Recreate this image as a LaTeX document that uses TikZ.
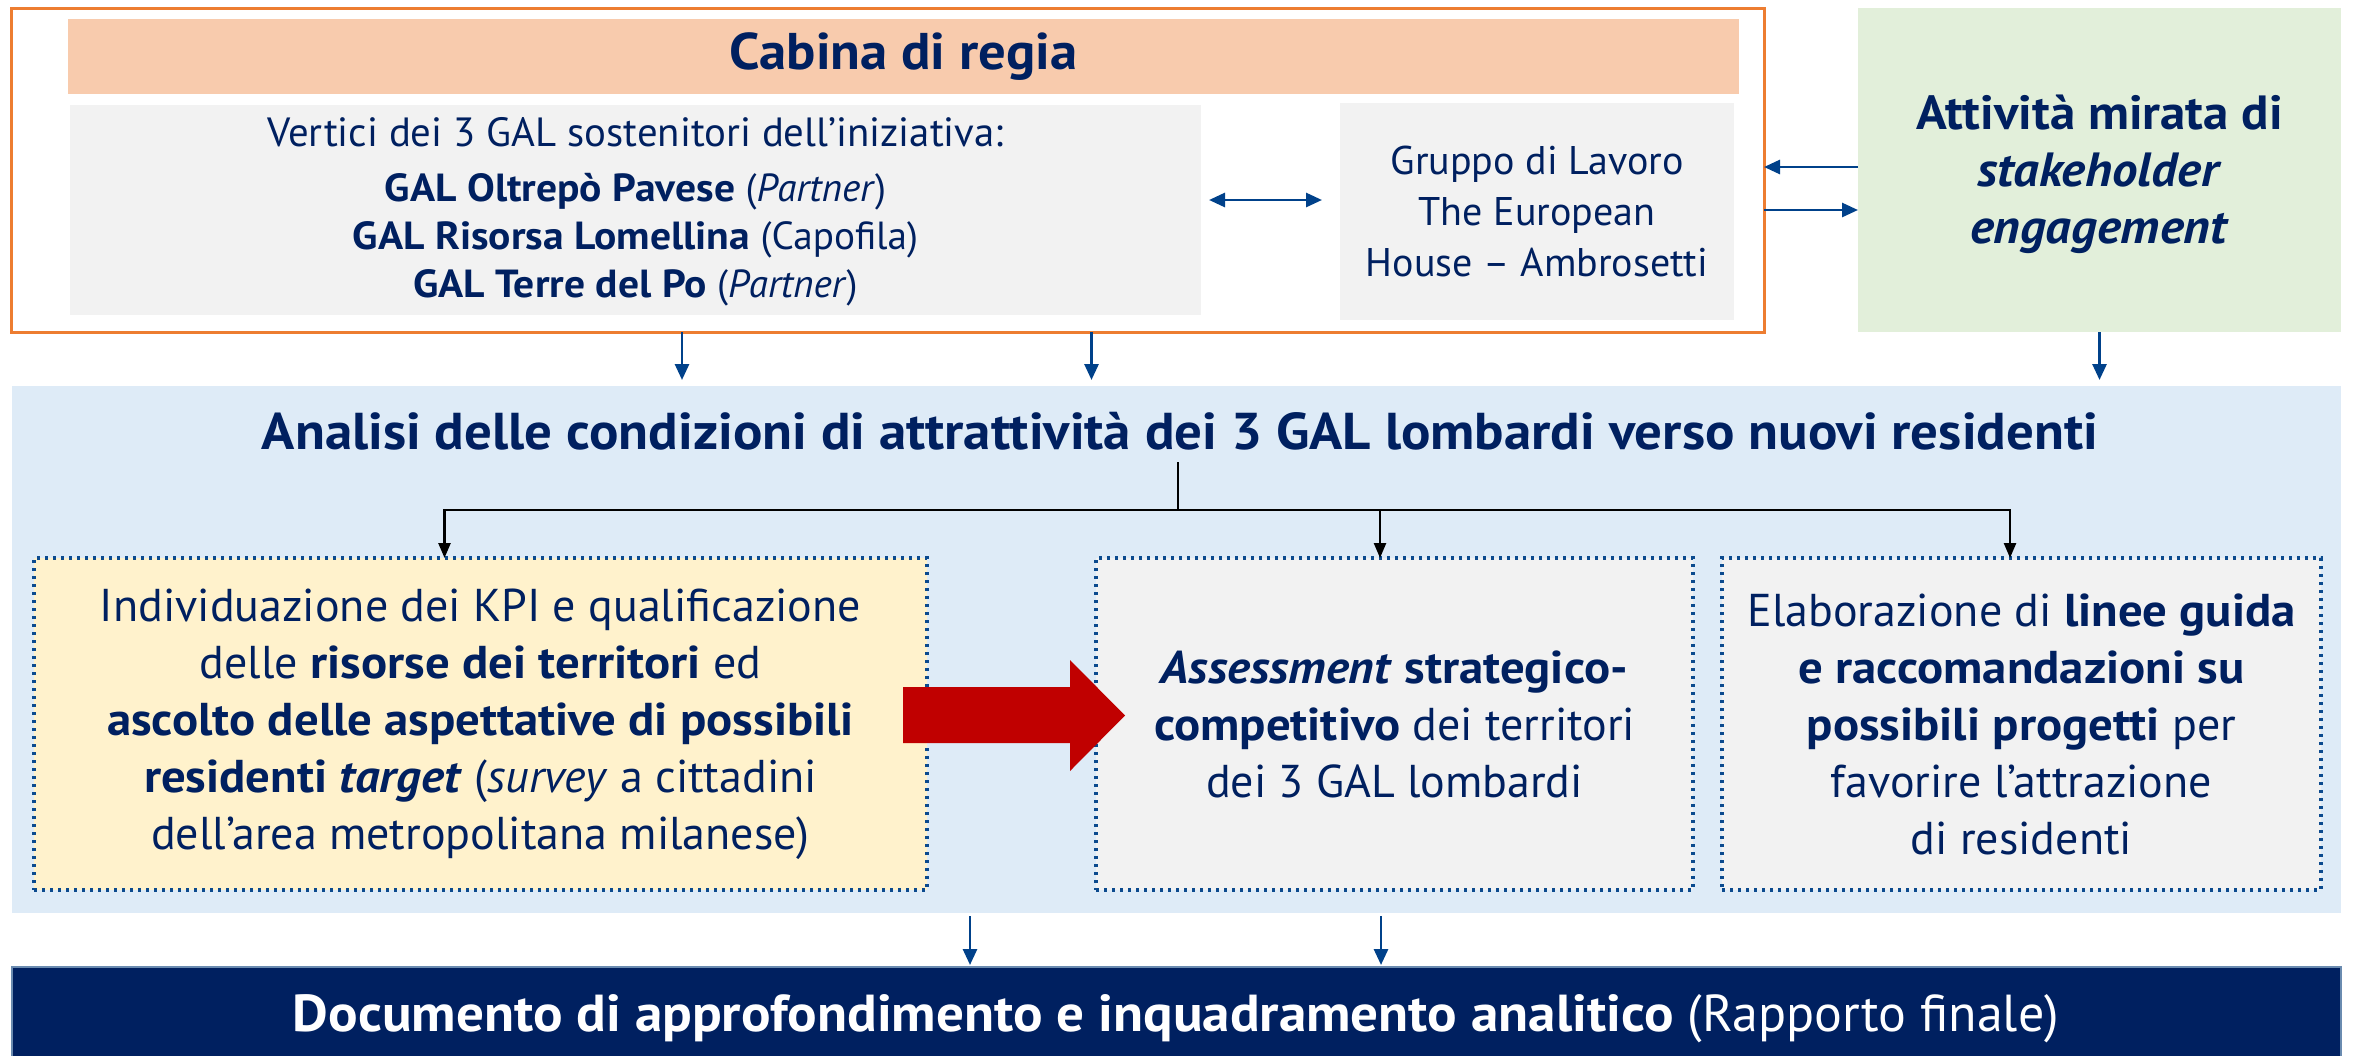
\documentclass[tikz,border=0pt]{standalone}
\usepackage{fontspec}
\setmainfont{PT Sans}[BoldFeatures={FakeStretch=1.06},BoldItalicFeatures={FakeStretch=1.06}]
\usetikzlibrary{arrows.meta,calc}
\definecolor{navy}{HTML}{002060}
\definecolor{orangeb}{HTML}{ED7D31}
\definecolor{peach}{HTML}{F8CBAD}
\definecolor{lgray}{HTML}{F2F2F2}
\definecolor{lgreen}{HTML}{E2EFDA}
\definecolor{lblue}{HTML}{DEEBF7}
\definecolor{lyellow}{HTML}{FFF2CC}
\definecolor{arrowblue}{HTML}{00418A}
\definecolor{dotblue}{HTML}{0B4A8E}
\definecolor{redarrow}{HTML}{C00000}
\definecolor{steel}{HTML}{6A8BB0}
\tikzset{
  area/.style={draw=none, inner sep=0pt, outer sep=0pt},
  txt/.style={text=navy, align=center, inner sep=0pt},
  dotbox/.style={area, draw=dotblue, line width=1.65pt, dash pattern=on 1.65pt off 2.35pt},
  barrow/.style={draw=arrowblue, line width=1.4pt, -{Triangle[length=8pt,width=7pt]}},
  bbarrow/.style={draw=arrowblue, line width=1.4pt, {Triangle[length=8pt,width=7pt]}-{Triangle[length=8pt,width=7pt]}},
  tree/.style={draw=black, line width=1.25pt},
  treearrow/.style={tree, -{Triangle[length=7.5pt,width=6pt]}}
}
\newcommand{\fs}[2]{\fontsize{#1}{#2}\selectfont}
\begin{document}
\begin{tikzpicture}[x=0.5pt,y=-0.5pt]
\useasboundingbox (0,0) rectangle (2354,1055);
% top area
\node[area, draw=orangeb, line width=1.5pt, minimum width=876.25pt, minimum height=162pt] (cab) at (887.75,170) {};
\node[area, fill=peach, minimum width=835.5pt, minimum height=37.5pt] (head) at (903.5,56.5) {};
\node[txt, font=\fs{25.8pt}{30pt}\bfseries] (headt) at (head.center) {Cabina di regia};
\node[area, fill=lgray, minimum width=565.5pt, minimum height=105pt] (verts) at (635.5,210) {};
\node[txt, font=\fs{20.4pt}{24pt}] (vertst) at (635.5,212) {Vertici dei 3 GAL sostenitori dell’iniziativa:\\[3.5pt]
\fs{19.6pt}{24pt}\textbf{GAL Oltrepò Pavese} (\textit{Partner})\\
\fs{19.6pt}{24pt}\textbf{GAL Risorsa Lomellina} (Capofila)\\
\fs{19.6pt}{24pt}\textbf{GAL Terre del Po} (\textit{Partner})};
\node[area, fill=lgray, minimum width=197pt, minimum height=108.5pt] (grp) at (1537,211.5) {};
\node[txt, font=\fs{20pt}{25.5pt}] (grpt) at (grp.center) {Gruppo di Lavoro\\The European\\House – Ambrosetti};
\node[area, fill=lgreen, minimum width=241.5pt, minimum height=162pt] (stk) at (2099.5,170) {};
\node[txt, font=\fs{24pt}{28.5pt}\bfseries] (stkt) at (2099.5,174) {Attività mirata di\\\textit{stakeholder}\\\textit{engagement}};
% analysis band
\node[area, fill=lblue, minimum width=1164.75pt, minimum height=263.5pt] (ana) at (1176.25,649.5) {};
\node[txt, font=\fs{25.9pt}{30pt}\bfseries] (anat) at (1180,431) {Analisi delle condizioni di attrattività dei 3 GAL lombardi verso nuovi residenti};
\node[dotbox, fill=lyellow, minimum width=446.5pt, minimum height=166pt] (box1) at (480.5,724) {};
\node[txt, font=\fs{23pt}{28.5pt}] (box1t) at (box1.center) {Individuazione dei KPI e qualificazione\\
delle \textbf{risorse dei territori} ed\\
\textbf{ascolto delle aspettative di possibili}\\
\textbf{residenti \textit{target}} (\textit{survey} a cittadini\\
dell’area metropolitana milanese)};
\node[dotbox, fill=lgray, minimum width=298.5pt, minimum height=166pt] (box2) at (1394.5,724) {};
\node[txt, font=\fs{23pt}{28.5pt}] (box2t) at (box2.center) {\textbf{\textit{Assessment} strategico-}\\
\textbf{competitivo} dei territori\\
dei 3 GAL lombardi};
\node[dotbox, fill=lgray, minimum width=299.5pt, minimum height=166pt] (box3) at (2021.5,724) {};
\node[txt, font=\fs{23pt}{28.5pt}] (box3t) at (box3.center) {Elaborazione di \textbf{linee guida}\\
\textbf{e raccomandazioni su}\\
\textbf{possibili progetti} per\\
favorire l’attrazione\\
di residenti};
% final document bar
\node[area, fill=navy, draw=steel, line width=1.2pt, minimum width=1164.5pt, minimum height=50pt] (doc) at (1176.5,1017) {};
\node[txt, text=white, font=\fs{26pt}{30pt}] (doct) at (1176,1019) {\textbf{Documento di approfondimento e inquadramento analitico} (Rapporto finale)};
% helper coordinates
\coordinate (c1) at (682,0);
\coordinate (c2) at (1091.5,0);
\coordinate (c3) at (970,0);
\coordinate (c4) at (1381,0);
\coordinate (tsrc) at (1178,462);
\coordinate (tj) at (1178,510);
% connectors top
\draw[bbarrow] ([xshift=4pt,yshift=5pt]verts.east) -- ([xshift=-9pt,yshift=5pt]verts.east -| grp.west);
\draw[barrow] ([yshift=1.5pt]stk.west) -- ([yshift=1.5pt]stk.west -| cab.east);
\draw[barrow] ([yshift=-20pt]cab.east) -- ([yshift=-20pt]cab.east -| stk.west);
\draw[barrow, shorten >=3pt] (cab.south -| c1) -- (ana.north -| c1);
\draw[barrow, shorten >=3pt] (cab.south -| c2) -- (ana.north -| c2);
\draw[barrow, shorten >=3pt] (stk.south) -- (stk.south |- ana.north);
% tree
\draw[tree] (tsrc) -- (tj);
\draw[treearrow] (tj) -| ([xshift=-18pt]box1.north);
\draw[treearrow] (tj) -| ([xshift=-7.25pt]box2.north);
\draw[treearrow] (tj) -| ([xshift=-5.75pt]box3.north);
% red block arrow
\fill[redarrow] (903,687) -- (1070,687) -- (1070,660) -- (1125,715.5) -- (1070,771) -- (1070,743) -- (903,743) -- cycle;
% bottom arrows
\draw[barrow, shorten <=1.5pt, shorten >=1pt] (ana.south -| c3) -- (doc.north -| c3);
\draw[barrow, shorten <=1.5pt, shorten >=1pt] (ana.south -| c4) -- (doc.north -| c4);
\end{tikzpicture}
\end{document}
